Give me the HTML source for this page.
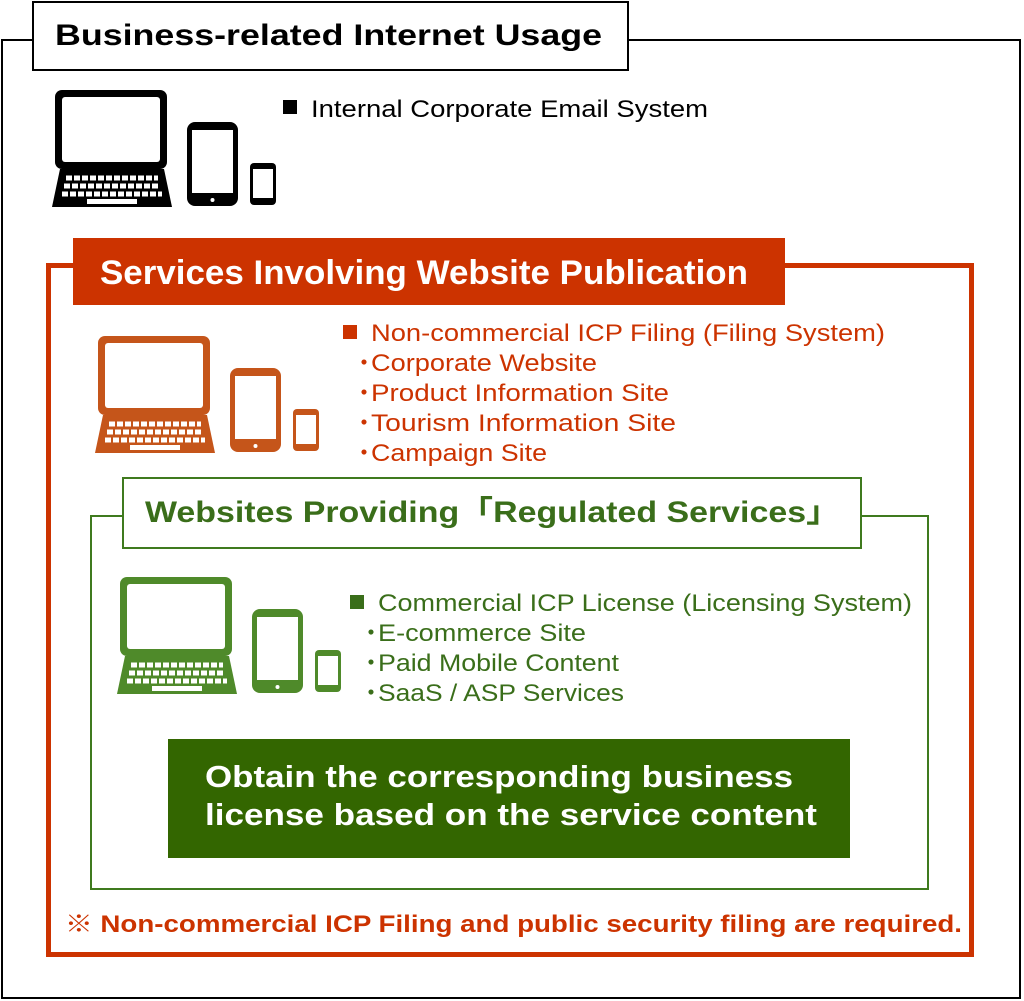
<!DOCTYPE html>
<html><head><meta charset="utf-8"><style>
html,body{margin:0;padding:0;background:#fff;}
svg{display:block;}
text{font-family:"Liberation Sans","Noto Sans CJK JP",sans-serif;}
</style></head><body>
<svg width="1024" height="1001" viewBox="0 0 1024 1001" xmlns="http://www.w3.org/2000/svg">
<defs>
<g id="dev">
  <rect x="3" y="0" width="112" height="79" rx="7" fill="currentColor"/>
  <rect x="10" y="7" width="98" height="65" rx="3" fill="#fff"/>
  <polygon points="8,79 112,79 120,117 0,117" fill="currentColor"/>
  <line x1="14" y1="88" x2="106" y2="88" stroke="#fff" stroke-width="5" stroke-dasharray="6,2"/>
  <line x1="12" y1="96" x2="108" y2="96" stroke="#fff" stroke-width="5" stroke-dasharray="6,2"/>
  <line x1="10" y1="104" x2="110" y2="104" stroke="#fff" stroke-width="5" stroke-dasharray="6,2"/>
  <rect x="35" y="109" width="50" height="5" fill="#fff"/>
  <rect x="135" y="32" width="51" height="84" rx="8" fill="currentColor"/>
  <rect x="140" y="40" width="41" height="63" fill="#fff"/>
  <circle cx="160.5" cy="110" r="2" fill="#fff"/>
  <rect x="198" y="73" width="26" height="42" rx="4" fill="currentColor"/>
  <rect x="201" y="79" width="20" height="29" fill="#fff"/>
</g>
</defs>

<!-- outer -->
<rect x="2" y="40" width="1018" height="958" fill="none" stroke="#000" stroke-width="2"/>
<rect x="33" y="2" width="595" height="68" fill="#fff" stroke="#000" stroke-width="2"/>
<text x="55" y="45" font-size="30" font-weight="bold" fill="#000" textLength="547" lengthAdjust="spacingAndGlyphs">Business-related Internet Usage</text>
<use href="#dev" x="52" y="90" style="color:#000"/>
<rect x="283" y="100" width="14" height="14" fill="#000"/>
<text x="311" y="117" font-size="24" fill="#000" textLength="397" lengthAdjust="spacingAndGlyphs">Internal Corporate Email System</text>

<!-- orange -->
<rect x="48.5" y="265.5" width="923" height="689" fill="none" stroke="#cc3300" stroke-width="5"/>
<rect x="73" y="238" width="712" height="67" fill="#cc3300"/>
<text x="100" y="284" font-size="34" font-weight="bold" fill="#fff" textLength="648" lengthAdjust="spacingAndGlyphs">Services Involving Website Publication</text>
<use href="#dev" x="95" y="336" style="color:#c5551a"/>
<g font-size="24" fill="#cc3300">
<rect x="343" y="325" width="14" height="14" fill="#cc3300"/>
<text x="371" y="341" textLength="514" lengthAdjust="spacingAndGlyphs">Non-commercial ICP Filing (Filing System)</text>
<text x="352" y="371">・</text><text x="371" y="371" textLength="226" lengthAdjust="spacingAndGlyphs">Corporate Website</text>
<text x="352" y="401">・</text><text x="371" y="401" textLength="298" lengthAdjust="spacingAndGlyphs">Product Information Site</text>
<text x="352" y="431">・</text><text x="371" y="431" textLength="305" lengthAdjust="spacingAndGlyphs">Tourism Information Site</text>
<text x="352" y="461">・</text><text x="371" y="461" textLength="176" lengthAdjust="spacingAndGlyphs">Campaign Site</text>
</g>

<!-- green -->
<rect x="91" y="516" width="837" height="373" fill="none" stroke="#3f7a1e" stroke-width="2"/>
<rect x="123" y="478" width="738" height="70" fill="#fff" stroke="#3f7a1e" stroke-width="2"/>
<text x="145" y="522" font-size="30" font-weight="bold" fill="#3a6e1a" textLength="695" lengthAdjust="spacingAndGlyphs">Websites Providing「Regulated Services」</text>
<use href="#dev" x="117" y="577" style="color:#4f8a2a"/>
<g font-size="24" fill="#3a6e1a">
<rect x="350" y="595" width="14" height="14" fill="#3a6e1a"/>
<text x="378" y="611" textLength="534" lengthAdjust="spacingAndGlyphs">Commercial ICP License (Licensing System)</text>
<text x="359" y="641">・</text><text x="378" y="641" textLength="208" lengthAdjust="spacingAndGlyphs">E-commerce Site</text>
<text x="359" y="671">・</text><text x="378" y="671" textLength="241" lengthAdjust="spacingAndGlyphs">Paid Mobile Content</text>
<text x="359" y="701">・</text><text x="378" y="701" textLength="246" lengthAdjust="spacingAndGlyphs">SaaS / ASP Services</text>
</g>
<rect x="168" y="739" width="682" height="119" fill="#336600"/>
<text x="205" y="787" font-size="31" font-weight="bold" fill="#fff" textLength="588" lengthAdjust="spacingAndGlyphs">Obtain the corresponding business</text>
<text x="205" y="825" font-size="31" font-weight="bold" fill="#fff" textLength="612" lengthAdjust="spacingAndGlyphs">license based on the service content</text>

<text x="65" y="932" font-size="24" font-weight="bold" fill="#cc3300" textLength="897" lengthAdjust="spacingAndGlyphs">※ Non-commercial ICP Filing and public security filing are required.</text>
</svg>
</body></html>
